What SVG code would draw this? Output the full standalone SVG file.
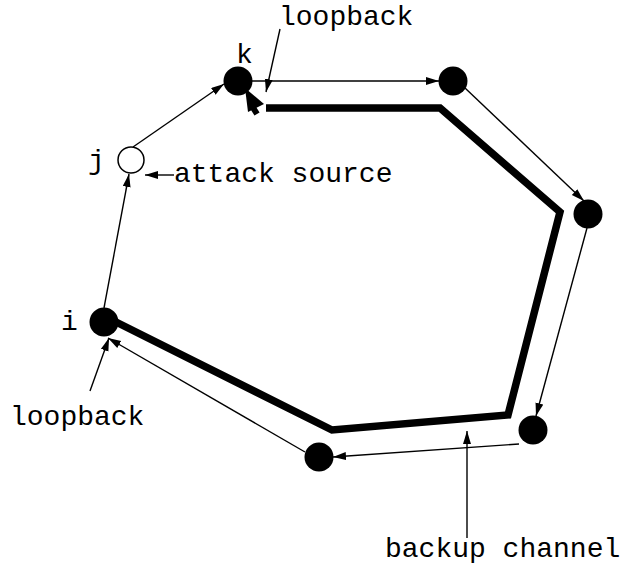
<svg xmlns="http://www.w3.org/2000/svg" width="624" height="571" viewBox="0 0 624 571">
  <style>
    .lbl { font-family: "Liberation Mono", "Courier New", monospace; font-size: 28px; fill: #000; }
    .thin { stroke: #000; stroke-width: 1.4; fill: none; marker-end: url(#head); }
    .thick { stroke: #000; stroke-width: 7.5; fill: none; stroke-linejoin: miter; stroke-linecap: butt; }
    .node { fill: #000; }
    .hollow { fill: #fff; stroke: #000; stroke-width: 1.5; }
  </style>
  <defs>
    <marker id="head" markerUnits="userSpaceOnUse" markerWidth="14" markerHeight="10" refX="13" refY="4" orient="auto">
      <path d="M0,0 L13,4 L0,8 z" fill="#000"/>
    </marker>
  </defs>

  <rect width="624" height="571" fill="#fff"/>

  <!-- backup channel (thick path) -->
  <g id="backup-path">
    <polyline class="thick" points="266,108 440,108 560,212 508,415 332,430 116,322"/>
    <line x1="257" y1="114" x2="252" y2="106" stroke="#000" stroke-width="6"/>
    <polygon points="245,88 264,104 248,112" fill="#000"/>
  </g>

  <!-- connectors -->
  <g id="connectors">
    <line class="thin" x1="104" y1="308" x2="129" y2="174"/>
    <line class="thin" x1="133" y1="147" x2="224" y2="84"/>
    <line class="thin" x1="252" y1="81" x2="439" y2="81"/>
    <line class="thin" x1="465" y1="88" x2="584" y2="201"/>
    <line class="thin" x1="587" y1="228" x2="536" y2="416"/>
    <line class="thin" x1="519" y1="444" x2="333" y2="457"/>
    <line class="thin" x1="305" y1="452" x2="108" y2="338"/>
    <line class="thin" x1="90" y1="391" x2="109" y2="338"/>
    <line class="thin" x1="280" y1="29" x2="266" y2="92"/>
    <line class="thin" x1="174" y1="175" x2="145" y2="175"/>
    <line class="thin" x1="467" y1="538" x2="467" y2="431"/>
  </g>

  <!-- nodes -->
  <g id="node-i"><circle class="node" cx="104" cy="322" r="14.5"/><text class="lbl" x="61" y="330">i</text></g>
  <g id="node-j"><circle class="hollow" cx="131" cy="160" r="13"/><text class="lbl" x="88" y="169">j</text></g>
  <g id="node-k"><circle class="node" cx="238" cy="81" r="14.5"/><text class="lbl" x="236" y="63">k</text></g>
  <g id="node-n1"><circle class="node" cx="453" cy="81" r="14.5"/></g>
  <g id="node-n2"><circle class="node" cx="588" cy="214" r="14.5"/></g>
  <g id="node-n3"><circle class="node" cx="533" cy="430" r="14.5"/></g>
  <g id="node-n4"><circle class="node" cx="319" cy="457" r="14.5"/></g>

  <!-- annotations -->
  <g id="labels">
    <text class="lbl" x="279" y="25">loopback</text>
    <text class="lbl" x="174" y="182">attack source</text>
    <text class="lbl" x="10" y="425">loopback</text>
    <text class="lbl" x="385" y="557">backup channel</text>
  </g>
</svg>
